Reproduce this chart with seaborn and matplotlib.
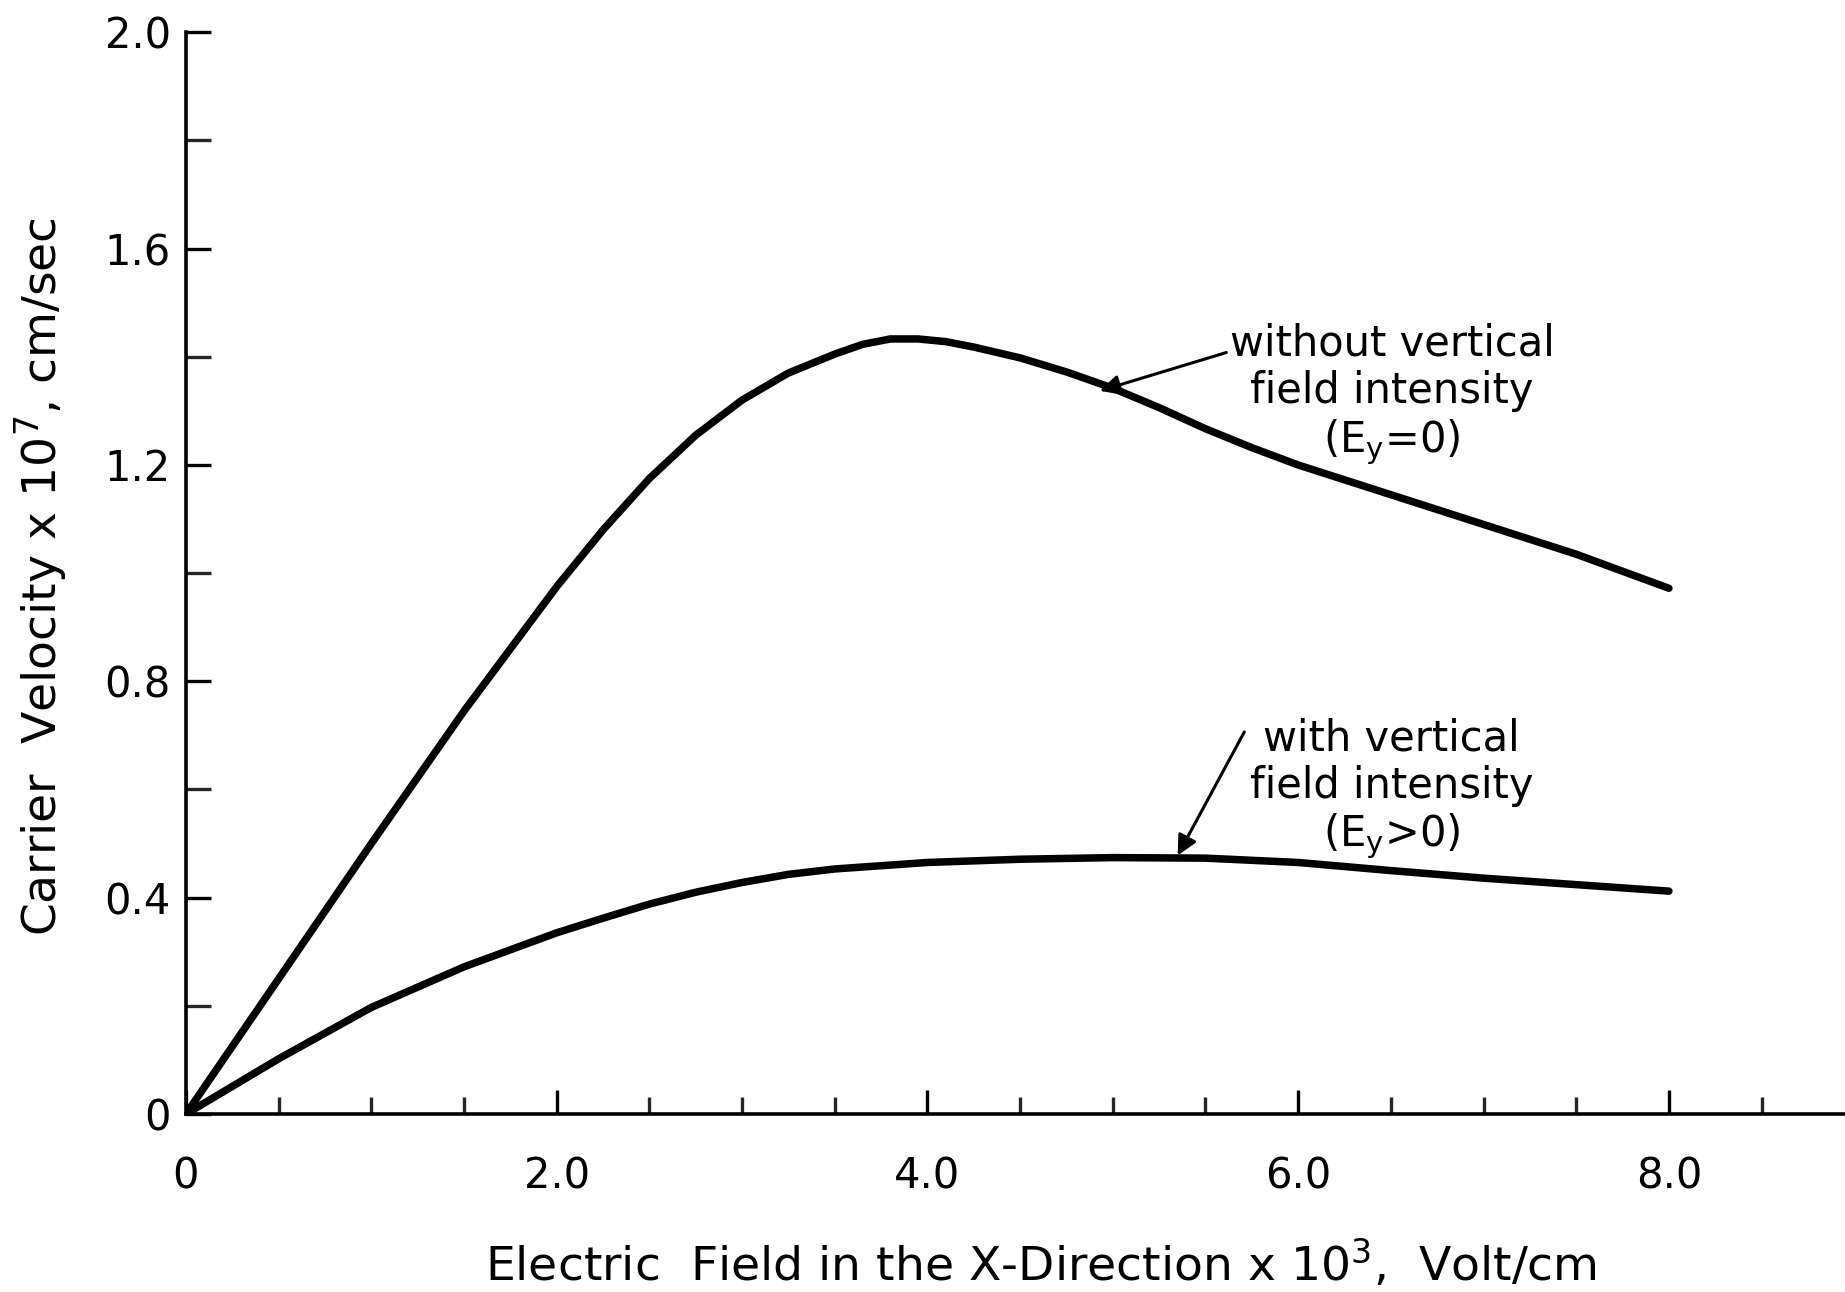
import matplotlib
matplotlib.use("Agg")
import matplotlib.pyplot as plt
import seaborn as sns
import pandas as pd
from matplotlib.ticker import MultipleLocator, FixedLocator, FixedFormatter

# ---- data ----
x_no_field = [0, 0.5, 1.0, 1.5, 2.0, 2.25, 2.5, 2.75, 3.0, 3.25, 3.5, 3.65, 3.8, 3.95, 4.1,
              4.25, 4.5, 4.75, 5.0, 5.25, 5.5, 5.75, 6.0, 6.5, 7.0, 7.5, 8.0]
v_no_field = [0, 0.25, 0.50, 0.745, 0.975, 1.08, 1.175, 1.255, 1.32, 1.37, 1.405, 1.423, 1.433, 1.433, 1.428,
              1.418, 1.398, 1.372, 1.342, 1.306, 1.267, 1.232, 1.200, 1.145, 1.090, 1.035, 0.972]

x_with_field = [0, 0.5, 1.0, 1.5, 2.0, 2.25, 2.5, 2.75, 3.0, 3.25, 3.5, 4.0, 4.5, 5.0, 5.5,
                6.0, 6.5, 7.0, 7.5, 8.0]
v_with_field = [0, 0.102, 0.197, 0.272, 0.335, 0.362, 0.388, 0.41, 0.428, 0.443, 0.453, 0.465, 0.471, 0.474, 0.473,
                0.465, 0.450, 0.436, 0.424, 0.412]

x_tick_vals = [0, 2, 4, 6, 8]
x_tick_labels = ["0", "2.0", "4.0", "6.0", "8.0"]
y_tick_vals = [0, 0.4, 0.8, 1.2, 1.6, 2.0]
y_tick_labels = ["0", "0.4", "0.8", "1.2", "1.6", "2.0"]

label_no_field = "without vertical\nfield intensity\n(E$_\\mathregular{y}$=0)"
label_with_field = "with vertical\nfield intensity\n(E$_\\mathregular{y}$>0)"
x_title = "Electric  Field in the X-Direction x 10$^\\mathregular{3}$,  Volt/cm"
y_title = "Carrier  Velocity x 10$^\\mathregular{7}$, cm/sec"

df = pd.concat([
    pd.DataFrame({"E": x_no_field, "v": v_no_field, "case": "no"}),
    pd.DataFrame({"E": x_with_field, "v": v_with_field, "case": "with"}),
])

sns.set_theme(style="ticks")
plt.rcParams["font.family"] = ["DejaVu Sans"]
plt.rcParams["text.color"] = "black"
plt.rcParams["axes.labelcolor"] = "black"

fig = plt.figure(figsize=(18.45, 12.92), dpi=100)
ax = fig.add_axes([0.1008, 0.1378, 0.8992, 0.8372])

sns.lineplot(data=df, x="E", y="v", units="case", estimator=None, color="black",
             linewidth=5.4, ax=ax, sort=False)
for ln in ax.get_lines():
    ln.set_solid_capstyle("round")
    ln.set_solid_joinstyle("round")

ax.set_xlim(0, 8.95)
ax.set_ylim(0, 2.0)

for s in ["top", "right"]:
    ax.spines[s].set_visible(False)
for s in ["left", "bottom"]:
    ax.spines[s].set_linewidth(2.6)
    ax.spines[s].set_color("black")

ax.xaxis.set_major_locator(FixedLocator(x_tick_vals))
ax.xaxis.set_major_formatter(FixedFormatter(x_tick_labels))
ax.xaxis.set_minor_locator(MultipleLocator(0.5))
ax.yaxis.set_major_locator(FixedLocator(y_tick_vals))
ax.yaxis.set_major_formatter(FixedFormatter(y_tick_labels))
ax.yaxis.set_minor_locator(MultipleLocator(0.2))

ax.tick_params(axis="x", which="major", direction="in", length=17, width=2.4,
               labelsize=30, pad=30, colors="black")
ax.tick_params(axis="x", which="minor", direction="in", length=12, width=2.4)
ax.tick_params(axis="y", which="both", direction="in", length=18, width=2.4)
ax.tick_params(axis="y", which="major", labelsize=30, pad=11, colors="black")

ax.set_xlabel(x_title, fontsize=34, va="center")
ax.set_ylabel(y_title, fontsize=34, va="center")
ax.xaxis.set_label_coords(0.5155, -0.1396)
ax.yaxis.set_label_coords(-0.0875, 0.497)

ax.annotate(label_no_field, xy=(4.93, 1.337), xytext=(5.63, 1.33),
            fontsize=30, ha="left", va="center", linespacing=1.15,
            multialignment="center",
            arrowprops=dict(arrowstyle="-|>", color="black", lw=2.2,
                            mutation_scale=30, shrinkA=0, shrinkB=0,
                            relpos=(0.0, 0.8)))
ax.annotate(label_with_field, xy=(5.35, 0.478), xytext=(5.74, 0.60),
            fontsize=30, ha="left", va="center", linespacing=1.15,
            multialignment="center",
            arrowprops=dict(arrowstyle="-|>", color="black", lw=2.2,
                            mutation_scale=30, shrinkA=0, shrinkB=0,
                            relpos=(-0.02, 0.9)))

fig.savefig("out.png", dpi=100, facecolor="white")
